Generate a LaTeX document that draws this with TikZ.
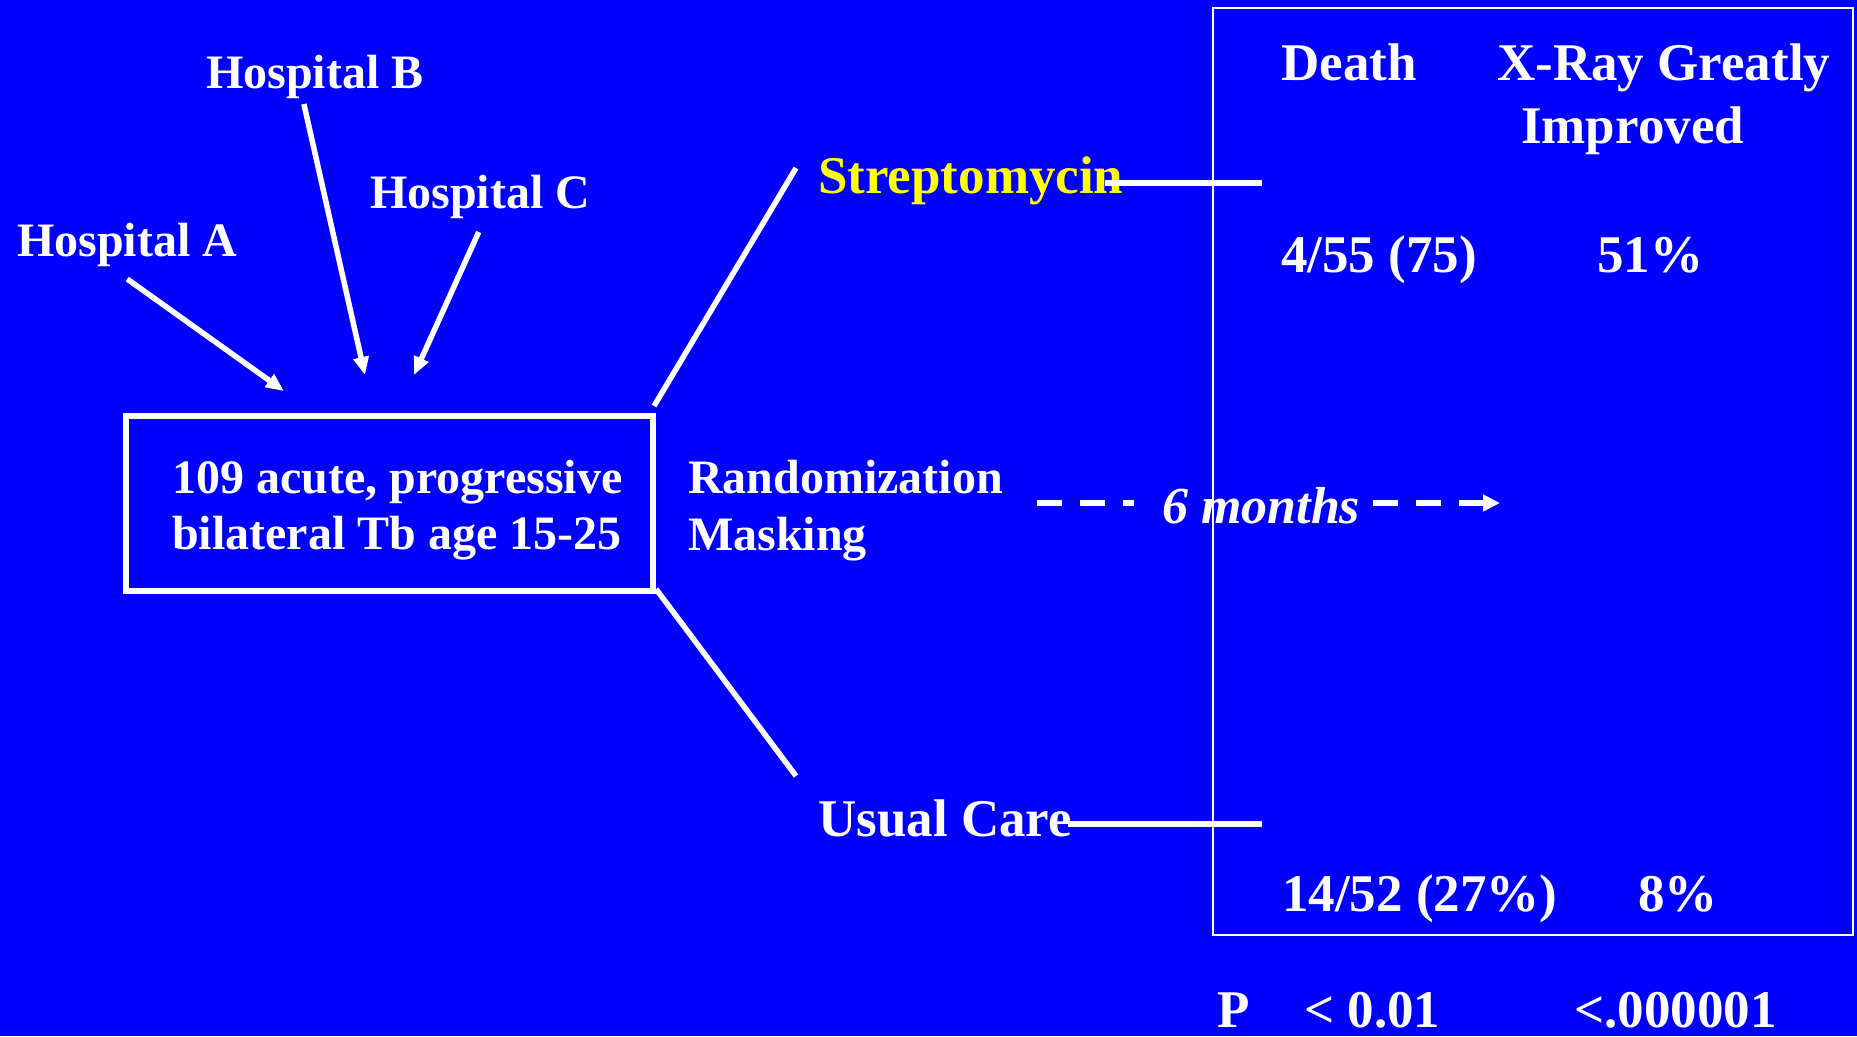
\documentclass[tikz,border=0pt]{standalone}
\usepackage{fontspec}
\setmainfont{Liberation Serif}
\usetikzlibrary{arrows.meta}
\definecolor{bgblue}{RGB}{0,0,255}
\definecolor{stryellow}{RGB}{255,255,0}
\tikzset{
  lbl/.style={text=white, inner sep=0pt, anchor=base west, font=\fontsize{48}{56}\selectfont\bfseries},
  biglbl/.style={lbl, font=\fontsize{53}{60}\selectfont\bfseries},
  itlbl/.style={lbl, font=\fontsize{52}{60}\selectfont\bfseries\itshape},
  conn/.style={draw=white, line width=5.5pt},
  arr/.style={conn, -{Triangle[length=18pt,width=15pt]}},
  dsh/.style={draw=white, line width=6pt, dash pattern=on 25pt off 18pt},
  dsharr/.style={dsh, -{Triangle[length=17pt,width=16pt]}},
}
\begin{document}
\begin{tikzpicture}[x=1pt,y=-1pt]
\useasboundingbox (0,0) rectangle (1857,1036);
\fill[bgblue] (0,0) rectangle (1857,1036);

% hospitals
\node[lbl] (hospA) at (17,256) {Hospital A};
\node[lbl] (hospB) at (206,88) {Hospital B};
\node[lbl] (hospC) at (370,208) {Hospital C};
\coordinate (tipA) at (284,391);
\coordinate (tipB) at (365,375);
\coordinate (tipC) at (414,375);
\draw[arr] ([shift={(0,12.6)}]hospA.south) -- (tipA);
\draw[arr] ([shift={(-11,5.6)}]hospB.south) -- (tipB);
\draw[arr] ([shift={(-1.5,13.6)}]hospC.south) -- (tipC);

% patient box
\node[draw=white, line width=6pt, minimum width=527pt, minimum height=175pt, inner sep=0pt] (box) at (389.5,503.5) {};
\node[lbl] (boxA) at (172,493) {109 acute, progressive};
\node[lbl] (boxB) at (172,549) {bilateral Tb age 15-25};

% randomization
\node[lbl] (rand) at (688,493) {Randomization};
\node[lbl] (mask) at (688,550) {Masking};

% branches
\coordinate (sA) at (796,168);
\coordinate (uA) at (796,776);
\draw[conn] ([shift={(-2,-7)}]box.north east) -- (sA);
\draw[conn] ([shift={(0,-5)}]box.south east) -- (uA);

\node[biglbl, text=stryellow] (strep) at (818,193) {Streptomycin};
\node[biglbl] (usual) at (818,836) {Usual Care};

% results frame
\node[draw=white, line width=2pt, minimum width=640pt, minimum height=927pt, inner sep=0pt] (frame) at (1533,471.5) {};

\coordinate (sE) at (1262,183);
\coordinate (uE) at (1262,824);
\draw[conn, line width=6pt] ([shift={(-19,-10)}]strep.base east) -- (sE);
\draw[conn, line width=6pt] ([shift={(-4,-12)}]usual.base east) -- (uE);

% 6 months
\node[itlbl] (months) at (1162,523) {6 months};
\coordinate (d1) at (1037,503);
\coordinate (d2) at (1134,503);
\coordinate (d3) at (1373,503);
\coordinate (d4) at (1500,503);
\draw[dsh] (d1) -- (d2);
\draw[dsharr] (d3) -- (d4);

% table
\node[biglbl] (death) at (1281,80) {Death};
\node[biglbl] (xray) at (1497,80) {X-Ray Greatly};
\node[biglbl] (impr) at (1521,143) {Improved};
\node[biglbl] (r1a) at (1281,272) {4/55 (75)};
\node[biglbl] (r1b) at (1597,272) {51\%};
\node[biglbl] (r2a) at (1282,911) {14/52 (27\%)};
\node[biglbl] (r2b) at (1638,911) {8\%};

% p values
\node[biglbl] (pP) at (1217,1027) {P};
\node[biglbl] (p1) at (1304,1027) {< 0.01};
\node[biglbl] (p2) at (1574,1027) {<.000001};
\end{tikzpicture}
\end{document}
